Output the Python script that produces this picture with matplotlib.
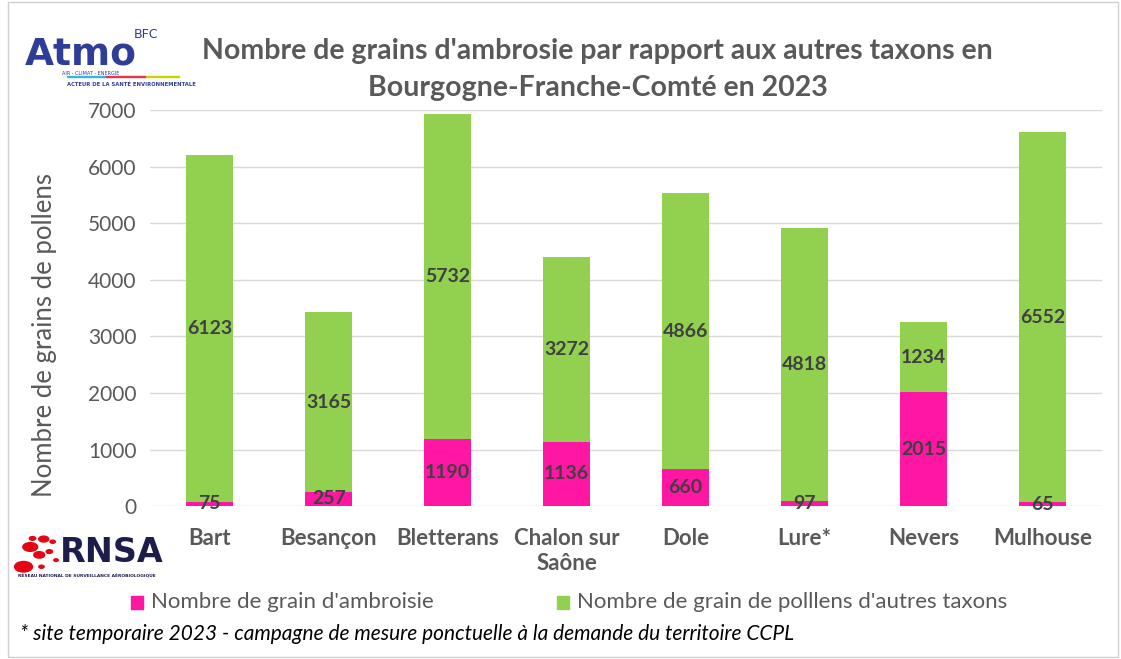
import numpy as np
import matplotlib.pyplot as plt
from matplotlib.patches import Rectangle

sites = ["Bart", "Besançon", "Bletterans", "Chalon sur\nSaône", "Dole", "Lure*", "Nevers", "Mulhouse"]
ambroisie = [75, 257, 1190, 1136, 660, 97, 2015, 65]
autres = [6123, 3165, 5732, 3272, 4866, 4818, 1234, 6552]

pink = "#FF17A4"
green = "#92D050"
grey = "#595959"
font = "Lato"

fig = plt.figure(figsize=(11.21, 6.59), dpi=100)
fig.patches.append(Rectangle((0.007, 0.003), 0.99, 0.994, transform=fig.transFigure,
                             fill=False, edgecolor="#D0D0D0", linewidth=1))
ax = fig.add_axes([0.134, 0.232, 0.849, 0.601])

x = np.arange(len(sites))
w = 0.4
amb = np.array(ambroisie)
aut = np.array(autres)
ax.bar(x, amb, w, color=pink, zorder=3)
ax.bar(x, aut, w, bottom=amb, color=green, zorder=3)

for i in range(len(sites)):
    ax.text(x[i], amb[i] / 2, str(amb[i]), ha="center", va="center",
            fontsize=14, fontweight="bold", color="#404040", family=font, zorder=4)
    ax.text(x[i], amb[i] + aut[i] / 2, str(aut[i]), ha="center", va="center",
            fontsize=14, fontweight="bold", color="#404040", family=font, zorder=4)

ax.set_xlim(-0.5, len(sites) - 0.5)
ax.set_ylim(0, 7000)
ax.set_yticks(np.arange(0, 7001, 1000))
ax.yaxis.grid(True, color="#D9D9D9", linewidth=1, zorder=0)
ax.set_xticks(x)
ax.set_xticklabels(sites, fontsize=16, fontweight="bold", color=grey, family=font)
for lab in ax.get_yticklabels():
    lab.set_fontsize(15)
    lab.set_color(grey)
    lab.set_family(font)
ax.tick_params(axis="x", length=0, pad=16)
ax.tick_params(axis="y", length=0, pad=10)
for s in ax.spines.values():
    s.set_visible(False)
ax.set_ylabel("Nombre de grains de pollens", fontsize=18.5, color=grey, family=font)
ax.yaxis.set_label_coords(-0.098, 0.432)

fig.text(0.533, 0.922, "Nombre de grains d'ambrosie par rapport aux autres taxons en",
         ha="center", va="center", fontsize=20.5, fontweight="bold", color=grey, family=font)
fig.text(0.533, 0.866, "Bourgogne-Franche-Comté en 2023",
         ha="center", va="center", fontsize=20.5, fontweight="bold", color=grey, family=font)

# legend
fig.patches.append(Rectangle((0.117, 0.076), 0.011, 0.019, transform=fig.transFigure, color=pink))
fig.text(0.135, 0.086, "Nombre de grain d'ambroisie", va="center", fontsize=16, color=grey, family=font)
fig.patches.append(Rectangle((0.497, 0.076), 0.011, 0.019, transform=fig.transFigure, color=green))
fig.text(0.515, 0.086, "Nombre de grain de polllens d'autres taxons", va="center", fontsize=16, color=grey, family=font)

fig.text(0.018, 0.038, "* site temporaire 2023 - campagne de mesure ponctuelle à la demande du territoire CCPL",
         va="center", fontsize=15, style="italic", color="black", family=font)

# Atmo logo
fig.text(0.022, 0.918, "Atmo", fontsize=27, fontweight="bold", color="#2E3D98", family="DejaVu Sans", va="center")
fig.text(0.119, 0.948, "BFC", fontsize=9, color="#2E3D98", family="DejaVu Sans", va="center")
fig.text(0.055, 0.889, "AIR - CLIMAT - ENERGIE", fontsize=3.5, color="#2E3D98", va="center")
fig.patches.append(Rectangle((0.06, 0.883), 0.035, 0.002, transform=fig.transFigure, color="#39B3E6"))
fig.patches.append(Rectangle((0.095, 0.883), 0.035, 0.002, transform=fig.transFigure, color="#E8334A"))
fig.patches.append(Rectangle((0.13, 0.883), 0.03, 0.002, transform=fig.transFigure, color="#C8D400"))
fig.text(0.06, 0.872, "ACTEUR DE LA SANTÉ ENVIRONNEMENTALE", fontsize=3.8, fontweight="bold",
         color="#2E3D98", va="center")

# RNSA logo
dots_x = [0.021, 0.027, 0.035, 0.039, 0.029, 0.044, 0.047, 0.037, 0.05]
dots_y = [0.14, 0.17, 0.158, 0.182, 0.183, 0.163, 0.178, 0.14, 0.15]
dots_s = [80, 55, 30, 25, 10, 10, 7, 7, 5]
for dx, dy, ds in zip(dots_x, dots_y, dots_s):
    fig.patches.append(plt.Circle((dx, dy), np.sqrt(ds) / 1121, transform=fig.transFigure, color="#E30613"))
fig.text(0.053, 0.162, "RNSA", fontsize=24, fontweight="bold", color="#1D1D4B",
         family="DejaVu Sans", va="center")
fig.text(0.016, 0.126, "RÉSEAU NATIONAL DE SURVEILLANCE AÉROBIOLOGIQUE", fontsize=3.2, fontweight="bold",
         color="#1D1D4B", va="center")

fig.savefig("out.png", dpi=100)
